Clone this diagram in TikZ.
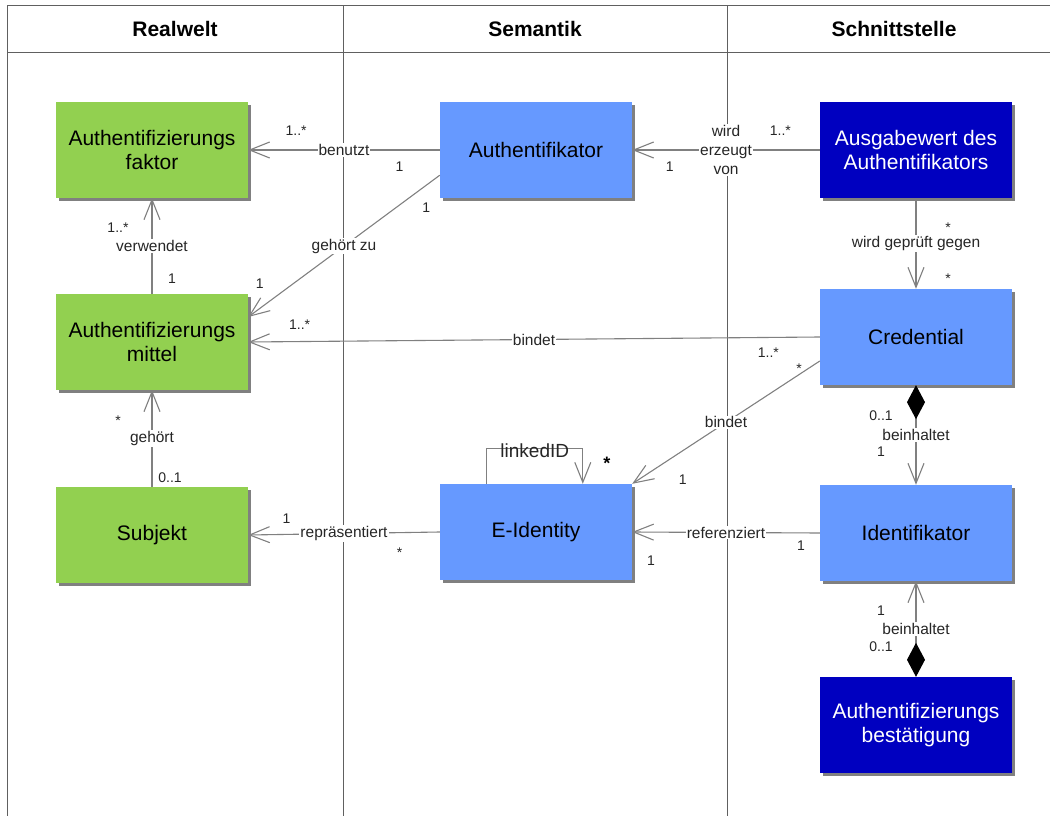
\documentclass[tikz,border=0pt]{standalone}
\usepackage{fontspec}
\setmainfont{Liberation Sans}
\usetikzlibrary{arrows.meta,calc,shadows}

\newlength{\du}
\setlength{\du}{1pt}

\definecolor{realgruen}{RGB}{146,208,80}
\definecolor{semblau}{RGB}{102,153,255}
\definecolor{dunkelblau}{RGB}{0,0,192}
\definecolor{linecolor}{RGB}{128,128,128}
\definecolor{framecolor}{RGB}{96,96,96}

\tikzset{
  klasse/.style={minimum width=192\du, minimum height=96\du, inner sep=0pt, align=center,
    font=\fontsize{21}{24}\selectfont,
    drop shadow={shadow xshift=3\du, shadow yshift=-3\du, fill=linecolor, opacity=1}},
  real/.style={klasse, fill=realgruen},
  sem/.style={klasse, fill=semblau},
  aussen/.style={klasse, fill=dunkelblau, text=white},
  assoc/.style={draw=linecolor, line width=1.1\du,
    arrows={-{Straight Barb[length=20pt,width=16pt]}}},
  komp/.style={assoc,
    arrows={{Diamond[length=34pt,width=18pt,fill=black,color=black]}-{Straight Barb[length=20pt,width=16pt]}}},
  rolle/.style={fill=white, inner sep=1\du, align=center, text=black!85,
    font=\fontsize{15.5}{19}\selectfont},
  mult/.style={inner sep=0pt, text=black!85, font=\fontsize{14}{16}\selectfont},
  kopf/.style={font=\fontsize{21}{24}\selectfont\bfseries}
}

\begin{document}
\begin{tikzpicture}[x=1\du,y=-1\du]
\useasboundingbox (0,0) rectangle (1050,816);
% Rahmen und Spalten
\draw[framecolor, line width=1\du] (7,816) -- (7,6) -- (1050,6);
\draw[framecolor, line width=1\du] (7,53) -- (1050,53);
\draw[framecolor, line width=1\du] (343,6) -- (343,816);
\draw[framecolor, line width=1\du] (727,6) -- (727,816);
% Kopfzeile
\node[kopf] (hReal) at (175,29) {Realwelt};
\node[kopf] (hSem) at (535,29) {Semantik};
\node[kopf] (hSchnitt) at (894,29) {Schnittstelle};
% Klassen
\node[real] (faktor) at (152,150) {Authentifizierungs\\faktor};
\node[sem] (authr) at (536,150) {Authentifikator};
\node[aussen] (ausgabe) at (916,150) {Ausgabewert des\\Authentifikators};
\node[real] (mittel) at (152,342) {Authentifizierungs\\mittel};
\node[sem] (cred) at (916,337) {Credential};
\node[real] (subjekt) at (152,535) {Subjekt};
\node[sem] (eid) at (536,532) {E-Identity};
\node[sem] (ident) at (916,533) {Identifikator};
\node[aussen] (bestaet) at (916,725) {Authentifizierungs\\bestätigung};
% Assoziationen
\draw[assoc] (authr.west) -- node[rolle]{benutzt}
  node[mult,pos=.21,yshift=-17\du]{1} node[mult,pos=.75,yshift=19\du]{1..*} (faktor.east);
\draw[assoc] ($(authr.south west)+(0,-23)$) -- node[rolle]{gehört zu}
  node[mult,pos=.07,yshift=-23\du]{1} node[mult,pos=.94,yshift=25\du]{1} ($(mittel.east)+(0,-25)$);
\draw[assoc] (ausgabe.west) -- node[rolle]{wird\\erzeugt\\von}
  node[mult,pos=.21,yshift=19\du]{1..*} node[mult,pos=.8,yshift=-17\du]{1} (authr.east);
\draw[assoc] (ausgabe.south) -- node[rolle]{wird geprüft gegen}
  node[mult,pos=.29,xshift=32\du,yshift=-3\du]{*} node[mult,pos=.86,xshift=32\du,yshift=-3\du]{*} (cred.north);
\draw[assoc] (cred.west) -- node[rolle]{bindet}
  node[mult,pos=.09,yshift=-15\du]{1..*} node[mult,pos=.91,yshift=17\du]{1..*} (mittel.east);
\draw[assoc] ($(cred.west)+(0,24)$) -- node[rolle]{bindet}
  node[mult,pos=.11,yshift=6\du]{*} node[mult,pos=.73,yshift=-29\du]{1} (eid.north east);
\draw[assoc] ($(eid.north west)+(47,0)$) -- ++(0,-35) -|
  node[pos=.25, inner sep=0pt, yshift=-2\du, text=black!85, font=\fontsize{19}{21}\selectfont]{linkedID}
  node[pos=1, xshift=24\du, yshift=20\du, inner sep=0pt, font=\fontsize{18}{20}\selectfont\bfseries]{*}
  ($(eid.north west)+(143,0)$);
\draw[assoc] (ident.west) -- node[rolle]{referenziert}
  node[mult,pos=.1,yshift=-13\du]{1} node[mult,pos=.9,yshift=-29\du]{1} (eid.east);
\draw[assoc] (eid.west) -- node[rolle]{repräsentiert}
  node[mult,pos=.21,yshift=-20\du]{*} node[mult,pos=.8,yshift=16\du]{1} (subjekt.east);
\draw[assoc] (subjekt.north) -- node[rolle]{gehört}
  node[mult,pos=.68,xshift=-34\du]{*} node[mult,pos=.09,xshift=18\du]{0..1} (mittel.south);
\draw[assoc] (mittel.north) -- node[rolle]{verwendet}
  node[mult,pos=.69,xshift=-34\du]{1..*} node[mult,pos=.16,xshift=20\du]{1} (faktor.south);
% Kompositionen
\draw[komp] (cred.south) -- node[rolle]{beinhaltet}
  node[mult,pos=.31,xshift=-35\du]{0..1} node[mult,pos=.67,xshift=-35\du]{1} (ident.north);
\draw[komp] (bestaet.north) -- node[rolle]{beinhaltet}
  node[mult,pos=.69,xshift=-35\du]{1} node[mult,pos=.32,xshift=-35\du]{0..1} (ident.south);
\end{tikzpicture}
\end{document}
